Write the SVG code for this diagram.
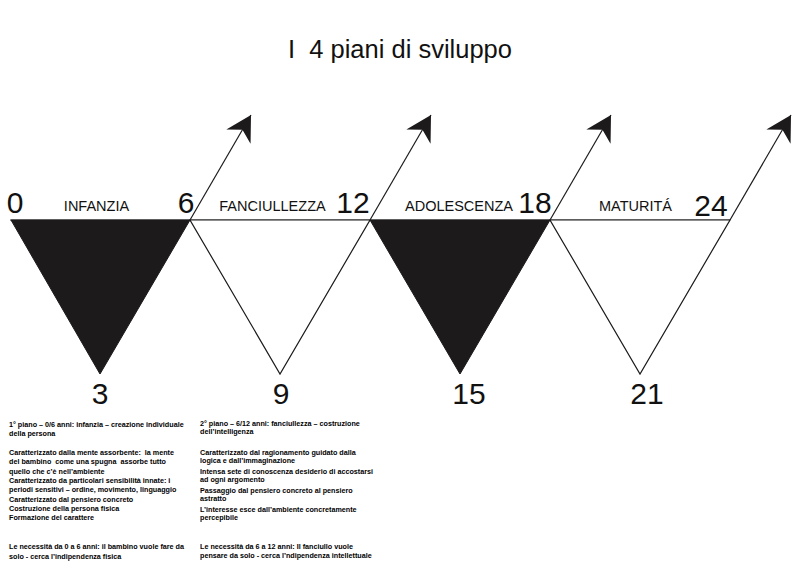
<svg xmlns="http://www.w3.org/2000/svg" width="801" height="579" viewBox="0 0 801 579">
<style>
.title{font-family:"Liberation Sans",Arial,sans-serif;font-size:25.5px;fill:#111;text-anchor:middle}
.num{font-family:"Liberation Sans",Arial,sans-serif;font-size:30px;fill:#111;text-anchor:middle}
.lbl{font-family:"Liberation Sans",Arial,sans-serif;font-size:14.5px;fill:#111;text-anchor:middle}
.body{font-family:"Liberation Sans",Arial,sans-serif;font-size:7.2px;font-weight:bold;fill:#000}
.tri-dark{fill:#1c1a1b;stroke:#1c1a1b;stroke-width:1}
.tri-open{fill:#fff;stroke:#1c1a1b;stroke-width:1.2}
.base{stroke:#444;stroke-width:1.2;fill:none}
.arrow{stroke:#1c1a1b;stroke-width:1.2;fill:none;marker-end:url(#head)}
</style>
<defs>
<marker id="head" markerUnits="userSpaceOnUse" orient="auto" viewBox="-26 -16 28 32" refX="0" refY="0" markerWidth="28" markerHeight="32">
<path d="M0,0 L-25,-14 L-17,0 L-25,14 Z" fill="#1c1a1b"/>
</marker>
</defs>
<text class="title" x="400" y="58" xml:space="preserve">I  4 piani di sviluppo</text>
<g id="connectors">
<line class="base" x1="10" y1="220" x2="730" y2="220"/>
<line class="arrow" x1="190" y1="220" x2="251" y2="115"/>
<line class="arrow" x1="370" y1="220" x2="431" y2="115"/>
<line class="arrow" x1="550" y1="220" x2="611" y2="115"/>
<line class="arrow" x1="730" y1="220" x2="791" y2="115"/>
</g>
<g id="infanzia">
<polygon class="tri-dark" points="11,220 190,220 100,374"/>
<text class="lbl" x="96.5" y="211">INFANZIA</text>
</g>
<g id="fanciullezza">
<polygon class="tri-open" points="190,220 370,220 280,374"/>
<text class="lbl" x="272.5" y="211">FANCIULLEZZA</text>
</g>
<g id="adolescenza">
<polygon class="tri-dark" points="370,220 550,220 460,374"/>
<text class="lbl" x="459" y="211">ADOLESCENZA</text>
</g>
<g id="maturita">
<polygon class="tri-open" points="550,220 730,220 640,374"/>
<text class="lbl" x="635.5" y="211">MATURITÁ</text>
</g>
<g id="numbers">
<text class="num" x="15" y="213">0</text>
<text class="num" x="186" y="213">6</text>
<text class="num" x="353" y="213">12</text>
<text class="num" x="535" y="213">18</text>
<text class="num" x="711" y="216">24</text>
<text class="num" x="100" y="404">3</text>
<text class="num" x="281" y="404">9</text>
<text class="num" x="469" y="404">15</text>
<text class="num" x="647" y="404">21</text>
</g>
<g id="col1">
<text class="body" x="9" y="427">1° piano – 0/6 anni: infanzia – creazione individuale</text>
<text class="body" x="9" y="435.5">della persona</text>
<text class="body" x="9" y="455" xml:space="preserve">Caratterizzato dalla mente assorbente:  la mente</text>
<text class="body" x="9" y="464" xml:space="preserve">del bambino  come una spugna  assorbe tutto</text>
<text class="body" x="9" y="473.5">quello che c’è nell’ambiente</text>
<text class="body" x="9" y="482.5">Caratterizzato da particolari sensibilità innate: i</text>
<text class="body" x="9" y="492">periodi sensitivi – ordine, movimento, linguaggio</text>
<text class="body" x="9" y="501.5">Caratterizzato dal pensiero concreto</text>
<text class="body" x="9" y="510.5">Costruzione della persona fisica</text>
<text class="body" x="9" y="520">Formazione del carattere</text>
<text class="body" x="9" y="549">Le necessità da 0 a 6 anni: il bambino vuole fare da</text>
<text class="body" x="9" y="558.5">solo - cerca l’indipendenza fisica</text>
</g>
<g id="col2">
<text class="body" x="200" y="426">2° piano – 6/12 anni: fanciullezza – costruzione</text>
<text class="body" x="200" y="433.5">dell’intelligenza</text>
<text class="body" x="200" y="455">Caratterizzato dal ragionamento guidato dalla</text>
<text class="body" x="200" y="462.5">logica e dall’immaginazione</text>
<text class="body" x="200" y="474">Intensa sete di conoscenza desiderio di accostarsi</text>
<text class="body" x="200" y="481.5">ad ogni argomento</text>
<text class="body" x="200" y="492.5">Passaggio dal pensiero concreto al pensiero</text>
<text class="body" x="200" y="500.5">astratto</text>
<text class="body" x="200" y="511.5">L’interesse esce dall’ambiente concretamente</text>
<text class="body" x="200" y="519.5">percepibile</text>
<text class="body" x="200" y="549">Le necessità da 6 a 12 anni: Il fanciullo vuole</text>
<text class="body" x="200" y="557.5">pensare da solo - cerca l’ndipendenza intellettuale</text>
</g>
</svg>
